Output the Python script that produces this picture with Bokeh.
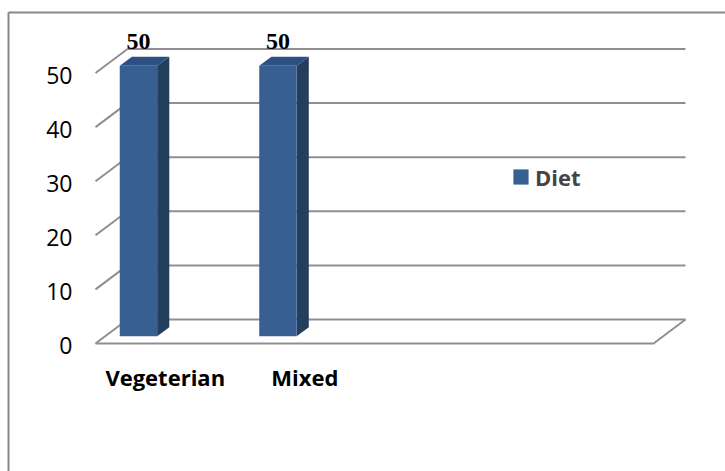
from bokeh.plotting import figure
from bokeh.models import Range1d, Legend, LegendItem
from bokeh.core.properties import value
from bokeh.embed import file_html
from bokeh.resources import INLINE

# --- data -------------------------------------------------------------
categories = ["Vegeterian", "Mixed"]
diet_values = [50, 50]
series_name = "Diet"
y_ticks = [0, 10, 20, 30, 40, 50]
n_slots = 4  # category slots along the floor

# --- geometry (screen pixels -> data units) ---------------------------
W, H = 725, 471
FLOOR_LEFT_PX = 95.0   # front-left corner of the floor
SLOT_PX = 139.5        # width of one category slot
ZERO_PY = 343.0        # screen y of value 0 on the front edge
UNIT_PX = 5.41         # pixels per value unit


def sx(px):
    return (px - FLOOR_LEFT_PX) / SLOT_PX


def sy(py):
    return (ZERO_PY - py) / UNIT_PX


DX = 32.0 / SLOT_PX    # oblique depth of the walls
DY = 24.0 / UNIT_PX
F0, F1 = 0.30, 0.68    # bar depth span as a fraction of the wall depth
BAR_START = 0.105      # bar position inside its slot
BAR_W = 0.268

FRONT = "#375f91"
SIDE = "#243e5e"
TOP = "#2d5080"
GRID = "#8f8f8f"

p = figure(
    width=W, height=H,
    x_range=Range1d(sx(0), sx(W)), y_range=Range1d(sy(H), sy(0)),
    output_backend="svg", toolbar_location=None,
    x_axis_location=None, y_axis_location=None,
    min_border=0, outline_line_color=None,
    background_fill_color="white", border_fill_color="white",
)
p.xgrid.visible = False
p.ygrid.visible = False

# outer chart-area border (left and top edges)
p.line([sx(8), sx(8)], [sy(H + 5), sy(12)], line_color="#878787", line_width=2)
p.line([sx(8), sx(W + 5)], [sy(12), sy(12)], line_color="#878787", line_width=2)

# back wall gridlines and the side-wall diagonals at each tick
p.multi_line(
    xs=[[DX, n_slots + DX] for _ in y_ticks],
    ys=[[t + DY, t + DY] for t in y_ticks],
    line_color=GRID, line_width=2,
)
p.multi_line(
    xs=[[0, DX] for _ in y_ticks],
    ys=[[t, t + DY] for t in y_ticks],
    line_color=GRID, line_width=2,
)
# front and right edges of the floor
p.line([0, n_slots, n_slots + DX], [0, 0, DY], line_color=GRID, line_width=2)

# --- 3D columns ---------------------------------------------------------
ox, oy = F0 * DX, F0 * DY
ddx, ddy = (F1 - F0) * DX, (F1 - F0) * DY
left = [i + BAR_START + ox for i in range(len(categories))]
right = [l + BAR_W for l in left]
top = [v + oy for v in diet_values]

side_xs = [[r, r + ddx, r + ddx, r] for r in right]
side_ys = [[oy, oy + ddy, t + ddy, t] for t in top]
top_xs = [[l, r, r + ddx, l + ddx] for l, r in zip(left, right)]
top_ys = [[t, t, t + ddy, t + ddy] for t in top]

p.patches(side_xs, side_ys, fill_color=SIDE, line_color=None)
p.patches(top_xs, top_ys, fill_color=TOP, line_color=None)
bars = p.vbar(
    x=[(l + r) / 2 for l, r in zip(left, right)], width=BAR_W,
    bottom=oy, top=top, fill_color=FRONT, line_color=None,
)

# value labels above each column
p.text(
    x=[(l + r) / 2 for l, r in zip(left, right)], y=top,
    text=[str(v) for v in diet_values],
    text_font=value("Liberation Serif"), text_font_style="bold",
    text_font_size="24px", text_align="center", text_baseline="middle",
    y_offset=-24, text_color="black",
)

# value axis labels
p.text(
    x=[0] * len(y_ticks), y=y_ticks, text=[str(t) for t in y_ticks],
    text_font=value("Open Sans"), text_font_size="23px",
    text_align="right", text_baseline="middle",
    x_offset=-23, y_offset=2, text_color="black",
)

# category labels under the floor
p.text(
    x=[i + 0.5 for i in range(len(categories))], y=[0] * len(categories),
    text=categories,
    text_font=value("Open Sans"), text_font_style="bold",
    text_font_size="22px", text_align="center", text_baseline="middle",
    y_offset=33.5, text_color="black",
)

legend = Legend(
    items=[LegendItem(label=series_name, renderers=[bars])],
    location=(511, H - 191.5),
    padding=0, margin=0, spacing=0,
    glyph_width=19, glyph_height=19, label_height=19,
    label_standoff=5,
    label_text_font="Open Sans", label_text_font_style="bold",
    label_text_font_size="22px", label_text_baseline="middle",
    border_line_color=None, background_fill_alpha=0,
)
p.add_layout(legend)

open("out.html", "w").write(file_html(p, INLINE))
